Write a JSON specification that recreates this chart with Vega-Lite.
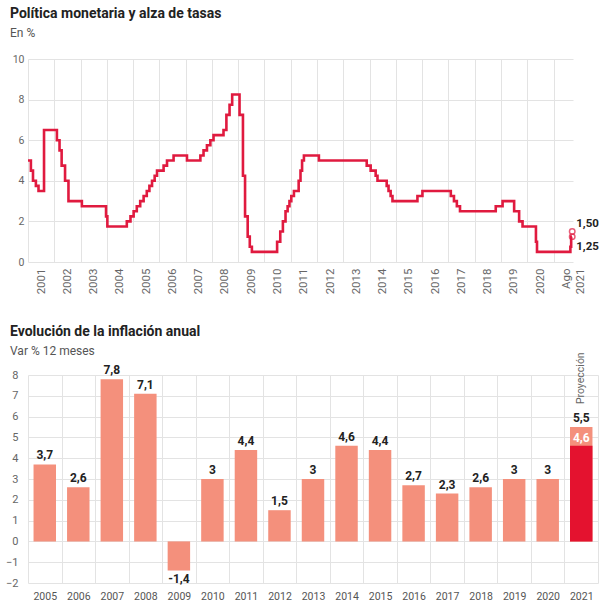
{
  "$schema": "https://vega.github.io/schema/vega-lite/v6.json",
  "padding": {"left": 5, "top": 7, "right": 0, "bottom": 0},
  "background": "white",
  "spacing": 31,
  "config": {
    "font": "Roboto",
    "view": {"stroke": null},
    "title": {"anchor": "start", "frame": "group", "font": "Roboto", "fontSize": 14, "fontWeight": "bold", "color": "#222222", "subtitleFont": "Roboto", "subtitleFontSize": 12, "subtitleColor": "#555555", "subtitlePadding": 7},
    "axis": {"labelFont": "Roboto", "labelColor": "#666666", "labelFontSize": 10.5, "gridColor": "#e3e3e3", "gridWidth": 1, "domain": false, "ticks": false, "title": null}
  },
  "datasets": {
    "tpm": [
      {"t": 2001.0, "tasa": 5.0}, {"t": 2001.11, "tasa": 4.5}, {"t": 2001.19, "tasa": 4.0}, {"t": 2001.3, "tasa": 3.75}, {"t": 2001.4, "tasa": 3.5},
      {"t": 2001.61, "tasa": 6.5}, {"t": 2002.1, "tasa": 6.0}, {"t": 2002.2, "tasa": 5.5}, {"t": 2002.28, "tasa": 4.75}, {"t": 2002.41, "tasa": 4.0},
      {"t": 2002.54, "tasa": 3.0}, {"t": 2003.05, "tasa": 2.75}, {"t": 2003.97, "tasa": 2.25}, {"t": 2004.02, "tasa": 1.75}, {"t": 2004.76, "tasa": 2.0},
      {"t": 2004.9, "tasa": 2.25}, {"t": 2005.02, "tasa": 2.5}, {"t": 2005.14, "tasa": 2.75}, {"t": 2005.27, "tasa": 3.0}, {"t": 2005.4, "tasa": 3.25},
      {"t": 2005.52, "tasa": 3.5}, {"t": 2005.62, "tasa": 3.75}, {"t": 2005.72, "tasa": 4.0}, {"t": 2005.82, "tasa": 4.25}, {"t": 2005.91, "tasa": 4.5},
      {"t": 2006.16, "tasa": 4.75}, {"t": 2006.29, "tasa": 5.0}, {"t": 2006.54, "tasa": 5.25}, {"t": 2007.05, "tasa": 5.0}, {"t": 2007.56, "tasa": 5.25},
      {"t": 2007.68, "tasa": 5.5}, {"t": 2007.81, "tasa": 5.75}, {"t": 2007.94, "tasa": 6.0}, {"t": 2008.06, "tasa": 6.25}, {"t": 2008.44, "tasa": 6.5},
      {"t": 2008.55, "tasa": 7.25}, {"t": 2008.67, "tasa": 7.75}, {"t": 2008.77, "tasa": 8.25}, {"t": 2009.05, "tasa": 7.25}, {"t": 2009.18, "tasa": 4.25},
      {"t": 2009.26, "tasa": 2.25}, {"t": 2009.36, "tasa": 1.25}, {"t": 2009.44, "tasa": 0.75}, {"t": 2009.52, "tasa": 0.5}, {"t": 2010.48, "tasa": 1.0},
      {"t": 2010.6, "tasa": 1.5}, {"t": 2010.7, "tasa": 2.0}, {"t": 2010.8, "tasa": 2.5}, {"t": 2010.88, "tasa": 2.75}, {"t": 2010.95, "tasa": 3.0},
      {"t": 2011.02, "tasa": 3.25}, {"t": 2011.12, "tasa": 3.5}, {"t": 2011.3, "tasa": 4.0}, {"t": 2011.37, "tasa": 4.5}, {"t": 2011.43, "tasa": 5.0},
      {"t": 2011.5, "tasa": 5.25}, {"t": 2012.07, "tasa": 5.0}, {"t": 2013.89, "tasa": 4.75}, {"t": 2014.04, "tasa": 4.5}, {"t": 2014.23, "tasa": 4.25},
      {"t": 2014.3, "tasa": 4.0}, {"t": 2014.65, "tasa": 3.75}, {"t": 2014.72, "tasa": 3.5}, {"t": 2014.8, "tasa": 3.25}, {"t": 2014.87, "tasa": 3.0},
      {"t": 2015.82, "tasa": 3.25}, {"t": 2016.01, "tasa": 3.5}, {"t": 2017.09, "tasa": 3.25}, {"t": 2017.21, "tasa": 3.0}, {"t": 2017.32, "tasa": 2.75},
      {"t": 2017.44, "tasa": 2.5}, {"t": 2018.8, "tasa": 2.75}, {"t": 2019.06, "tasa": 3.0}, {"t": 2019.5, "tasa": 2.5}, {"t": 2019.69, "tasa": 2.0},
      {"t": 2019.82, "tasa": 1.75}, {"t": 2020.33, "tasa": 1.0}, {"t": 2020.37, "tasa": 0.5}, {"t": 2021.64, "tasa": 0.75}, {"t": 2021.67, "tasa": 1.25},
      {"t": 2021.7, "tasa": 1.25}
    ],
    "fin": [
      {"t": 2021.71, "tasa": 1.5, "etiqueta": "1,50"},
      {"t": 2021.71, "tasa": 1.25, "etiqueta": "1,25"}
    ],
    "inflacion": [
      {"anio": "2005", "valor": 3.7, "etiqueta": "3,7"},
      {"anio": "2006", "valor": 2.6, "etiqueta": "2,6"},
      {"anio": "2007", "valor": 7.8, "etiqueta": "7,8"},
      {"anio": "2008", "valor": 7.1, "etiqueta": "7,1"},
      {"anio": "2009", "valor": -1.4, "etiqueta": "-1,4"},
      {"anio": "2010", "valor": 3.0, "etiqueta": "3"},
      {"anio": "2011", "valor": 4.4, "etiqueta": "4,4"},
      {"anio": "2012", "valor": 1.5, "etiqueta": "1,5"},
      {"anio": "2013", "valor": 3.0, "etiqueta": "3"},
      {"anio": "2014", "valor": 4.6, "etiqueta": "4,6"},
      {"anio": "2015", "valor": 4.4, "etiqueta": "4,4"},
      {"anio": "2016", "valor": 2.7, "etiqueta": "2,7"},
      {"anio": "2017", "valor": 2.3, "etiqueta": "2,3"},
      {"anio": "2018", "valor": 2.6, "etiqueta": "2,6"},
      {"anio": "2019", "valor": 3.0, "etiqueta": "3"},
      {"anio": "2020", "valor": 3.0, "etiqueta": "3"},
      {"anio": "2021", "valor": 5.5, "etiqueta": "5,5"}
    ],
    "proyeccion": [
      {"anio": "2021", "valor": 4.6, "etiqueta": "4,6", "nota": "Proyección"}
    ]
  },
  "vconcat": [
    {
      "width": 545,
      "height": 203,
      "title": {"text": "Política monetaria y alza de tasas", "subtitle": "En %", "dx": -18, "offset": 15},
      "layer": [
        {
          "data": {"name": "tpm"},
          "mark": {"type": "line", "interpolate": "step-after", "color": "#E01A3F", "strokeWidth": 2.6},
          "encoding": {
            "x": {"field": "t", "type": "quantitative",
                  "scale": {"domain": [2001, 2021.74], "nice": false, "zero": false},
                  "axis": {"values": [2001,2002,2003,2004,2005,2006,2007,2008,2009,2010,2011,2012,2013,2014,2015,2016,2017,2018,2019,2020,2021],
                           "tickCount": 40,
                           "labelAngle": -90, "labelOffset": 13, "labelPadding": 6, "labelFontSize": 11.5,
                           "labelOverlap": false, "labelFlush": false,
                           "labelExpr": "datum.value == 2021 ? ['Ago', '2021'] : '' + datum.value", "grid": true}},
            "y": {"field": "tasa", "type": "quantitative",
                  "scale": {"domain": [0, 10], "nice": false},
                  "axis": {"values": [0, 2, 4, 6, 8, 10], "tickCount": 20, "format": "d", "labelPadding": 4}}
          }
        },
        {
          "mark": {"type": "rule", "color": "#555555", "strokeWidth": 1},
          "encoding": {"y": {"datum": 0}}
        },
        {
          "data": {"name": "fin"},
          "mark": {"type": "point", "shape": "circle", "filled": false, "color": "#E01A3F", "size": 30, "strokeWidth": 1.5},
          "encoding": {"x": {"field": "t", "type": "quantitative"}, "y": {"field": "tasa", "type": "quantitative"}}
        },
        {
          "data": {"name": "fin"},
          "transform": [{"filter": "datum.tasa > 1.4"}],
          "mark": {"type": "text", "align": "left", "baseline": "bottom", "dx": 4, "dy": -3, "fontSize": 11.5, "fontWeight": "bold", "color": "#222222"},
          "encoding": {"x": {"field": "t", "type": "quantitative"}, "y": {"field": "tasa", "type": "quantitative"}, "text": {"field": "etiqueta"}}
        },
        {
          "data": {"name": "fin"},
          "transform": [{"filter": "datum.tasa < 1.4"}],
          "mark": {"type": "text", "align": "left", "baseline": "top", "dx": 4, "dy": 4, "fontSize": 11.5, "fontWeight": "bold", "color": "#222222"},
          "encoding": {"x": {"field": "t", "type": "quantitative"}, "y": {"field": "tasa", "type": "quantitative"}, "text": {"field": "etiqueta"}}
        }
      ]
    },
    {
      "width": 570,
      "height": 208,
      "title": {"text": "Evolución de la inflación anual", "subtitle": "Var % 12 meses", "dx": -18, "offset": -5},
      "encoding": {
        "x": {"field": "anio", "type": "nominal",
              "scale": {"paddingInner": 0, "paddingOuter": 0},
              "axis": {"labelAngle": 0, "labelPadding": 8, "labelFontSize": 10.5, "labelColor": "#555555", "grid": true, "tickBand": "extent"}},
        "y": {"field": "valor", "type": "quantitative",
              "scale": {"domain": [-2, 8], "nice": false},
              "axis": {"values": [-2, -1, 0, 1, 2, 3, 4, 5, 6, 7, 8], "tickCount": 20, "format": "d", "labelPadding": 10, "labelFontSize": 11}}
      },
      "layer": [
        {
          "data": {"name": "inflacion"},
          "mark": {"type": "bar", "color": "#F4907C", "width": {"band": 0.67}}
        },
        {
          "data": {"name": "proyeccion"},
          "mark": {"type": "bar", "color": "#E4122F", "width": {"band": 0.67}}
        },
        {
          "mark": {"type": "rule", "color": "#555555", "strokeWidth": 1},
          "encoding": {"y": {"datum": 0}, "x": null}
        },
        {
          "data": {"name": "inflacion"},
          "transform": [{"filter": "datum.valor >= 0"}],
          "mark": {"type": "text", "baseline": "bottom", "dy": -2, "fontSize": 12, "fontWeight": "bold", "color": "#222222"},
          "encoding": {"text": {"field": "etiqueta"}}
        },
        {
          "data": {"name": "inflacion"},
          "transform": [{"filter": "datum.valor < 0"}],
          "mark": {"type": "text", "baseline": "top", "dy": 3, "fontSize": 12, "fontWeight": "bold", "color": "#222222"},
          "encoding": {"text": {"field": "etiqueta"}}
        },
        {
          "data": {"name": "proyeccion"},
          "mark": {"type": "text", "baseline": "bottom", "dy": -1, "fontSize": 12, "fontWeight": "bold", "color": "#ffffff"},
          "encoding": {"text": {"field": "etiqueta"}}
        },
        {
          "data": {"name": "proyeccion"},
          "mark": {"type": "text", "angle": 270, "align": "left", "baseline": "middle", "fontSize": 10.5, "color": "#666666"},
          "encoding": {"y": {"datum": 6.6}, "text": {"field": "nota"}}
        }
      ]
    }
  ]
}
